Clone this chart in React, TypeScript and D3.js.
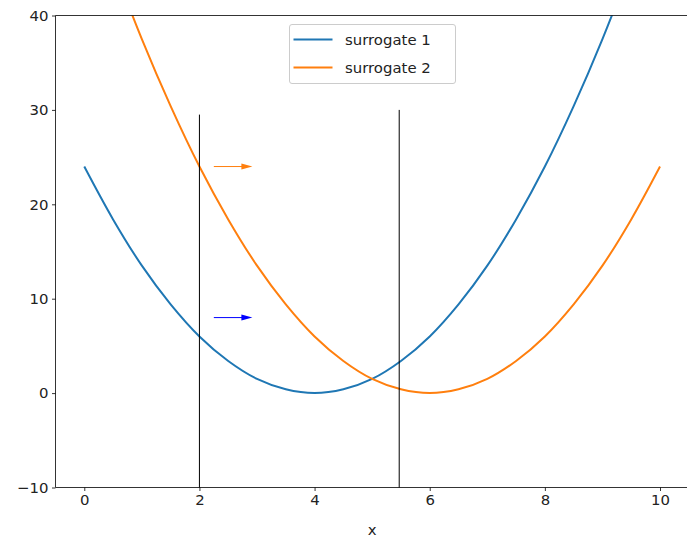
import React, { useEffect, useRef } from 'react';
import * as d3 from 'd3';

// sample points
const xs = [0, 0.5, 1, 1.5, 2, 2.5, 3, 3.5, 4, 4.5, 5, 5.5, 6, 6.5, 7, 7.5, 8, 8.5, 9, 9.5, 10];
const surrogate1 = [24, 18.4, 13.5, 9.4, 6, 3.4, 1.5, 0.4, 0, 0.4, 1.5, 3.4, 6, 9.4, 13.5, 18.4, 24, 30.4, 37.5, 45.4, 54];
const surrogate2 = [54, 45.4, 37.5, 30.4, 24, 18.4, 13.5, 9.4, 6, 3.4, 1.5, 0.4, 0, 0.4, 1.5, 3.4, 6, 9.4, 13.5, 18.4, 24];
const seriesNames = ['surrogate 1', 'surrogate 2'];
const seriesColors = ['#1f77b4', '#ff7f0e'];
const xTicks = [0, 2, 4, 6, 8, 10];
const yTicks = [-10, 0, 10, 20, 30, 40];
// vertical markers: [x, top]
const vlines = [[2, 29.5], [5.47, 30]];
// arrows: [x0, x1, y, color]
const arrows: [number, number, number, string][] = [[2.25, 2.92, 24, '#ff7f0e'], [2.25, 2.92, 8, 'blue']];

const App = () => {
  const ref = useRef<SVGSVGElement>(null);
  useEffect(() => {
    const svg = d3.select(ref.current);
    svg.selectAll('*').remove();
    const font = 'DejaVu Sans, sans-serif';
    const fs = 14.9;
    const left = 55.5, top = 15.5, bottom = 487.5;
    const x = d3.scaleLinear().domain([-0.5, 10.5]).range([left, 688.8]);
    const y = d3.scaleLinear().domain([-10, 40]).range([bottom, top]);

    svg.append('defs').append('clipPath').attr('id', 'clip')
      .append('rect').attr('x', left).attr('y', top).attr('width', 700).attr('height', bottom - top);

    const line = d3.line<[number, number]>()
      .x(d => x(d[0])).y(d => y(d[1]))
      .curve(d3.curveCatmullRom);

    [surrogate1, surrogate2].forEach((vals, i) => {
      svg.append('path')
        .datum(xs.map((v, j) => [v, vals[j]] as [number, number]))
        .attr('clip-path', 'url(#clip)')
        .attr('fill', 'none')
        .attr('stroke', seriesColors[i])
        .attr('stroke-width', 2)
        .attr('d', line);
    });

    vlines.forEach(([vx, vt]) => {
      svg.append('line')
        .attr('x1', x(vx)).attr('x2', x(vx))
        .attr('y1', y(-10)).attr('y2', y(vt))
        .attr('stroke', 'black').attr('stroke-width', 1);
    });

    arrows.forEach(([x0, x1, ay, c]) => {
      const px0 = x(x0), px1 = x(x1), py = y(ay);
      svg.append('line')
        .attr('x1', px0).attr('x2', px1 - 8)
        .attr('y1', py).attr('y2', py)
        .attr('stroke', c).attr('stroke-width', 1);
      svg.append('path')
        .attr('d', `M${px1},${py} L${px1 - 11},${py - 3} L${px1 - 11},${py + 3} Z`)
        .attr('fill', c);
    });

    // spines (no right spine)
    const spine = svg.append('g').attr('stroke', 'black').attr('stroke-width', 0.8);
    spine.append('line').attr('x1', left).attr('x2', left).attr('y1', top).attr('y2', bottom);
    spine.append('line').attr('x1', left).attr('x2', 700).attr('y1', top).attr('y2', top);
    spine.append('line').attr('x1', left).attr('x2', 700).attr('y1', bottom).attr('y2', bottom);

    const xAxis = svg.append('g').attr('transform', `translate(0,${bottom})`)
      .call(d3.axisBottom(x).tickValues(xTicks).tickSize(3.5).tickPadding(3.5).tickFormat(d3.format('d')));
    const yAxis = svg.append('g').attr('transform', `translate(${left},0)`)
      .call(d3.axisLeft(y).tickValues(yTicks).tickSize(3.5).tickPadding(3.5)
        .tickFormat(d => String(d).replace('-', '\u2212')));
    [xAxis, yAxis].forEach(g => {
      g.select('.domain').remove();
      g.selectAll('line').attr('stroke', 'black').attr('stroke-width', 0.8);
      g.selectAll('text').attr('font-family', font).attr('font-size', fs).attr('fill', '#222');
    });

    svg.append('text').attr('x', x(5)).attr('y', 535)
      .attr('text-anchor', 'middle').attr('font-family', font).attr('font-size', fs)
      .attr('fill', '#222').text('x');

    // legend
    const lg = svg.append('g').attr('transform', 'translate(289.5,24.5)');
    lg.append('rect').attr('width', 166).attr('height', 59).attr('rx', 2.5)
      .attr('fill', 'white').attr('fill-opacity', 0.8).attr('stroke', '#cccccc');
    seriesNames.forEach((n, i) => {
      const ly = 15 + i * 28;
      lg.append('line').attr('x1', 4).attr('x2', 43).attr('y1', ly).attr('y2', ly)
        .attr('stroke', seriesColors[i]).attr('stroke-width', 2);
      lg.append('text').attr('x', 55.5).attr('y', ly + 5.5).attr('font-family', font)
        .attr('font-size', fs).attr('fill', '#222').text(n);
    });
  }, []);
  return <svg ref={ref} width={687} height={539} style={{ position: 'absolute', left: 0, top: 0 }} />;
};

export default App;
